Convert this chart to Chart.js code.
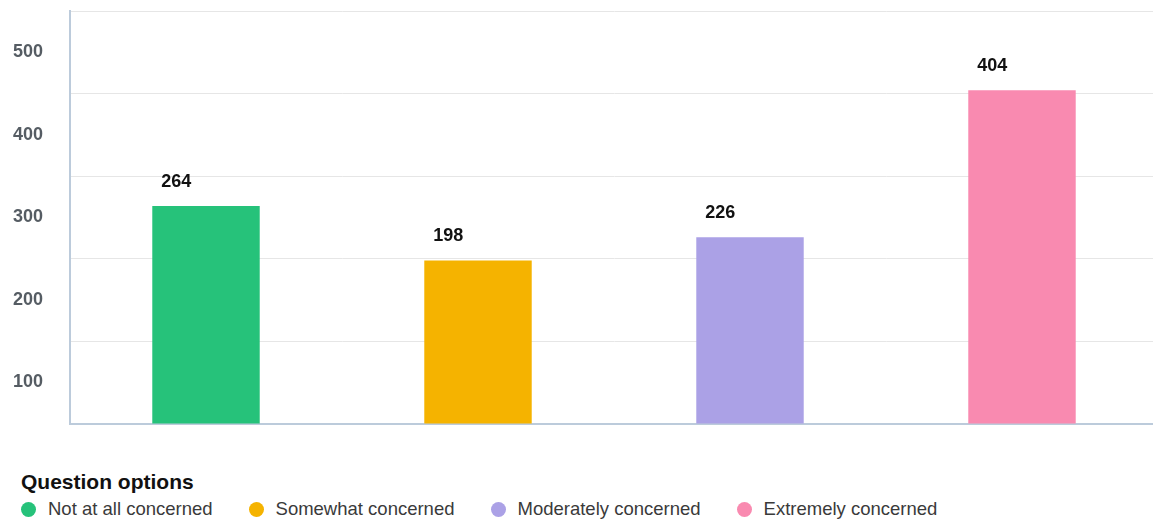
<!DOCTYPE html>
<html>
<head>
<meta charset="utf-8">
<script src="https://cdn.jsdelivr.net/npm/chart.js@4"></script>
<style>
    body { margin: 0; background: #fff; overflow: hidden; font-family: "Liberation Sans", Arial, sans-serif; }
    #wrap { position: absolute; left: 0; top: 0; width: 1158px; height: 440px; }
    #legend { position: absolute; left: 21px; top: 470px; }
    #legend h3 { margin: 0 0 4px 0; font-size: 21px; font-weight: bold; color: #111; }
    #legend .items { display: flex; align-items: center; }
    #legend .item { display: flex; align-items: center; margin-right: 36px; font-size: 18.5px; color: #3a3a3a; }
    #legend .dot { width: 15px; height: 15px; border-radius: 50%; margin-right: 12px; }
</style>
</head>
<body>
<div id="wrap"><canvas id="chart"></canvas></div>
<div id="legend"><h3>Question options</h3><div class="items" id="legend-items"></div></div>
<script>
const categories = ['Not at all concerned', 'Somewhat concerned', 'Moderately concerned', 'Extremely concerned'];
const counts = [264, 198, 226, 404];
const barColors = ['#26c27a', '#f5b300', '#aba1e6', '#f98ab0'];
const yTicks = [100, 200, 300, 400, 500];

(function () {
    const items = document.getElementById('legend-items');
    categories.forEach(function (name, i) {
        const el = document.createElement('div');
        el.className = 'item';
        el.innerHTML = '<span class="dot" style="background:' + barColors[i] + '"></span>' + name;
        items.appendChild(el);
    });

    const valueLabels = {
        id: 'valueLabels',
        afterDatasetsDraw(chart) {
            const ctx = chart.ctx;
            const meta = chart.getDatasetMeta(0);
            ctx.save();
            ctx.font = 'bold 18px "Liberation Sans", Arial, sans-serif';
            ctx.fillStyle = '#111';
            ctx.textAlign = 'left';
            ctx.textBaseline = 'middle';
            meta.data.forEach(function (bar, i) {
                ctx.fillText(String(counts[i]), bar.x - bar.width / 2 + 9, bar.y - 24);
            });
            ctx.restore();
        }
    };

    new Chart(document.getElementById('chart'), {
        type: 'bar',
        data: {
            labels: categories,
            datasets: [{
                data: counts,
                backgroundColor: barColors,
                borderWidth: 0,
                barPercentage: 0.395,
                categoryPercentage: 1
            }]
        },
        options: {
            responsive: true,
            maintainAspectRatio: false,
            animation: false,
            layout: { padding: { top: 11, bottom: 16, left: 0, right: 0 } },
            plugins: {
                legend: { display: false },
                tooltip: { enabled: false }
            },
            scales: {
                x: {
                    grid: { display: false, drawTicks: false },
                    border: { display: true, color: '#bccbdb', width: 2 },
                    ticks: { display: false },
                    afterFit(scale) { scale.height = 0; }
                },
                y: {
                    min: 0,
                    max: 500,
                    afterBuildTicks(scale) {
                        scale.ticks = [0].concat(yTicks).map(function (v) { return { value: v }; });
                    },
                    grid: { color: '#e6e6e6', drawTicks: false },
                    border: { display: true, color: '#bccbdb', width: 2 },
                    ticks: {
                        padding: 27,
                        labelOffset: 41,
                        color: '#555c63',
                        font: { family: '"Liberation Sans", Arial, sans-serif', size: 18, weight: 'bold' },
                        callback: function (v) { return v === 0 ? '' : v; }
                    },
                    afterFit(scale) {
                        scale.width = 70;
                        scale.paddingTop = 0;
                        scale.paddingBottom = 0;
                    }
                }
            }
        },
        plugins: [valueLabels]
    });
})();
</script>
</body>
</html>
